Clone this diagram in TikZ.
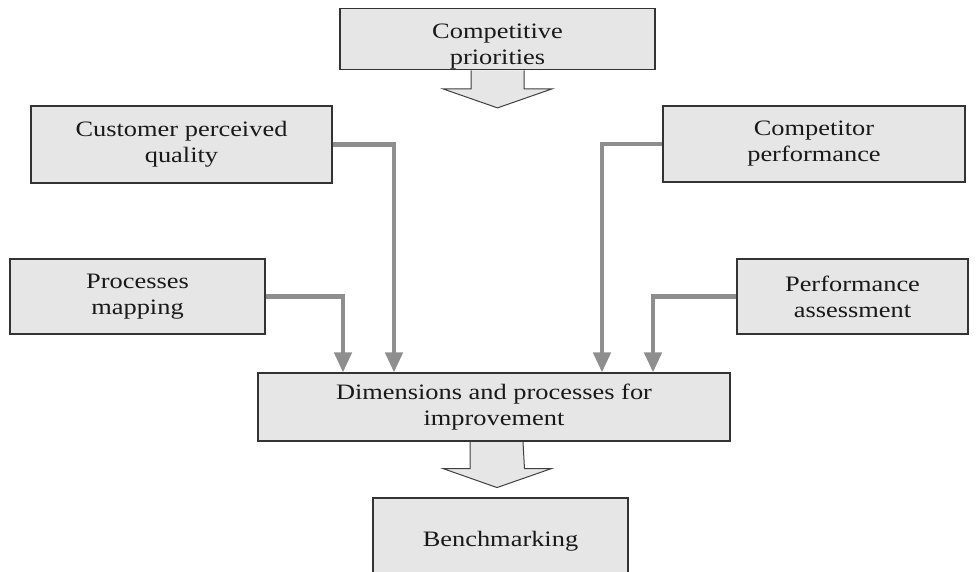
\documentclass[tikz,border=0pt]{standalone}
\usepackage{fontspec}
\setmainfont{Liberation Serif}[FakeStretch=1.2]
\usetikzlibrary{arrows.meta}

\definecolor{boxgray}{HTML}{E6E6E6}
\definecolor{feedgray}{HTML}{8E8E8E}

\tikzset{
  stage/.style={draw=black!80, fill=boxgray, line width=1.1pt, align=center,
    inner sep=0pt, text=black!90, font=\fontsize{22}{26}\selectfont,
    execute at begin node={\rule{0pt}{21pt}}},
  feed/.style={draw=feedgray, line width=4.5pt, -{Triangle[width=17pt,length=20pt]}},
  bigarrow/.style={draw=black!75, fill=boxgray, line width=1pt}
}

\begin{document}
\begin{tikzpicture}[x=1pt,y=-1pt]
\useasboundingbox (0,0) rectangle (978,571);

% top box
\node[stage, minimum width=315pt, minimum height=58pt] (prio) at (497.5,39) {\rule{0pt}{30pt}Competitive\\priorities};

% inputs
\node[stage, minimum width=301pt, minimum height=77pt] (cust) at (181.5,144.5) {Customer perceived\\quality};
\node[stage, minimum width=302pt, minimum height=76pt] (comp) at (814,144) {Competitor\\performance};
\node[stage, minimum width=255pt, minimum height=75pt] (proc) at (137.5,296.5) {Processes\\mapping};
\node[stage, minimum width=231pt, minimum height=75pt] (perf) at (852.5,296.5) {Performance\\assessment};

% middle and bottom
\node[stage, minimum width=472pt, minimum height=68pt] (dim) at (494,407) {Dimensions and processes for\\improvement};
\node[stage, minimum width=255pt, minimum height=80pt, execute at begin node={}] (bench) at (500.5,538) {Benchmarking};

% block arrows
\draw[bigarrow] ([shift={(-26.5pt,-0.6pt)}]prio.south) -- ++(0,18.4) -- ++(-28,0)
  -- ([yshift=-38pt]prio.south) -- ++(54.5,-19) -- ++(-28,0) -- ([shift={(26.5pt,-0.6pt)}]prio.south);
\draw[bigarrow] ([shift={(-24pt,-0.6pt)}]dim.south) -- ++(0,26.4) -- ++(-27,0)
  -- ([shift={(3pt,-46pt)}]dim.south) -- ++(54.5,-19) -- ++(-27,0) -- ([shift={(29pt,-0.6pt)}]dim.south);

% feeds
\draw[feed] (proc.east) -| ([xshift=-151pt]dim.north);
\draw[feed] (cust.east) -| ([xshift=-100pt]dim.north);
\draw[feed] (comp.west) -| ([xshift=108pt]dim.north);
\draw[feed] (perf.west) -| ([xshift=159pt]dim.north);

\end{tikzpicture}
\end{document}
